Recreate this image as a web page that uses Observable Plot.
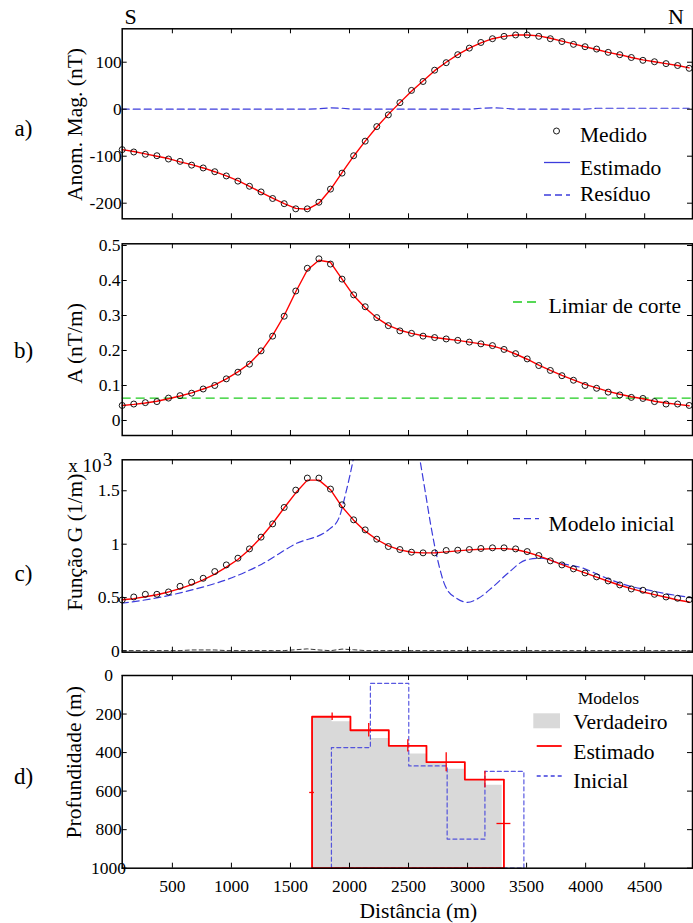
<!DOCTYPE html>
<html><head><meta charset="utf-8">
<script src="https://cdn.jsdelivr.net/npm/d3@7"></script>
<script src="https://cdn.jsdelivr.net/npm/@observablehq/plot@0.6"></script>
<style>
html,body{margin:0;padding:0;background:#fff;}
#wrap{position:relative;width:693px;height:923px;overflow:hidden;font-family:"Liberation Serif","Times New Roman",serif;}
</style></head><body><div id="wrap"></div>
<script>
// ---------------- DATA ----------------
const stations = d3.range(50).map(i => 75 + 98 * i); // survey stations (m)
const xTicks = [500, 1000, 1500, 2000, 2500, 3000, 3500, 4000, 4500];

// a) magnetic anomaly (nT)
const magMedido = [-86,-91,-96,-99,-106,-111,-119,-125,-133,-142,-153,-164,-176,-190,-201,-212,-212,-198,-170,-136,-99,-68,-37,-12,14,40,59,83,99,116,130,142,150,155,158,158,155,150,144,138,133,128,121,116,110,104,101,97,93,87];
const magEstimado = [-86,-90,-95,-100,-105,-112,-118,-125,-133,-142,-152,-164,-177,-189,-201,-211,-213,-200,-171,-135,-100,-68,-38,-11,14,38,60,82,100,116,130,141,150,155,158,158,156,151,145,139,133,127,121,116,110,105,101,97,93,88];
const magResiduo = [0,0,0,0,0,0,0,0,0,0,0,0,0,0,0,0,0,1,3,2,0,0,0,0,0,0,0,0,0,0,0,2,3,2,0,0,0,0,0,0,0,2,2,2,2,2,2,2,2,2];
const magYTicks = [-200, -100, 0, 100];

// b) amplitude of analytic signal (nT/m)
const ampMedido = [0.043,0.047,0.051,0.054,0.064,0.071,0.078,0.090,0.100,0.119,0.138,0.161,0.199,0.241,0.298,0.370,0.435,0.462,0.447,0.404,0.359,0.325,0.294,0.271,0.256,0.249,0.241,0.237,0.233,0.229,0.224,0.219,0.214,0.203,0.191,0.176,0.157,0.143,0.128,0.115,0.100,0.092,0.081,0.073,0.066,0.063,0.054,0.047,0.047,0.043];
const ampEstimado = [0.043,0.046,0.050,0.055,0.062,0.070,0.079,0.090,0.102,0.119,0.139,0.163,0.197,0.243,0.300,0.368,0.430,0.458,0.452,0.404,0.357,0.322,0.293,0.272,0.258,0.249,0.242,0.237,0.233,0.229,0.224,0.219,0.213,0.203,0.190,0.175,0.158,0.143,0.129,0.116,0.103,0.093,0.083,0.075,0.068,0.062,0.055,0.050,0.046,0.042];
const limiarCorte = 0.064;
const ampYTicks = [0, 0.1, 0.2, 0.3, 0.4, 0.5];

// c) function G (x 10^3, 1/m)
const gMedido = [0.478,0.506,0.531,0.531,0.553,0.606,0.644,0.681,0.744,0.806,0.869,0.956,1.066,1.190,1.344,1.506,1.619,1.619,1.516,1.369,1.228,1.134,1.047,0.978,0.950,0.925,0.919,0.919,0.941,0.944,0.950,0.960,0.966,0.966,0.956,0.931,0.894,0.844,0.806,0.769,0.731,0.694,0.656,0.619,0.581,0.569,0.531,0.506,0.494,0.481];
const gEstimado = [0.480,0.490,0.508,0.527,0.553,0.584,0.622,0.666,0.720,0.785,0.857,0.950,1.063,1.194,1.341,1.481,1.600,1.600,1.510,1.350,1.225,1.122,1.044,0.984,0.947,0.925,0.919,0.919,0.928,0.937,0.947,0.953,0.959,0.959,0.950,0.925,0.891,0.850,0.809,0.769,0.731,0.691,0.653,0.616,0.584,0.553,0.528,0.503,0.478,0.459];
const gResiduo = [0.004,0.004,0.004,0.004,0.004,0.004,0.010,0.010,0.010,0.004,0.004,0.004,0.004,0.004,0.004,0.012,0.020,0.010,0.003,0.018,0.012,0.004,0.004,0.004,0.004,0.004,0.004,0.004,0.004,0.004,0.004,0.004,0.004,0.004,0.004,0.004,0.004,0.004,0.004,0.004,0.004,0.004,0.004,0.004,0.004,0.004,0.004,0.004,0.004,0.004];
const gInicialX = [68,354,666,977,1257,1537,1832,1910,1972,2034,2150,2300,2450,2594,2642,2688,2750,2813,2906,2999,3092,3217,3341,3497,3621,3777,3964,4151,4337,4523,4710,4896];
const gInicialY = [0.447,0.494,0.572,0.675,0.813,1.000,1.143,1.244,1.494,1.806,2.600,3.000,2.600,1.806,1.490,1.180,0.838,0.603,0.494,0.456,0.494,0.603,0.728,0.853,0.869,0.822,0.781,0.694,0.619,0.572,0.531,0.500];
const gYTicks = [0, 0.5, 1, 1.5];

// d) depth models (m)
const trueBounds = [1683,1853,2008,2177,2333,2502,2652,2827,2977,3152,3293];
const trueTops = [216,240,287,327,370,408,453,486,543,569];
const estBounds = [1683,2008,2333,2652,2977,3308];
const estTops = [214,284,365,450,540];
const estErrX = [1853,2163,2494,2819,3147];
const estErrHalf = [19,35,32,49,43];
const estSideDepth = [607,768];
const estSideHalf = [20,59];
const initBounds = [1847,2177,2502,2827,3147,3477];
const initTops = [374,41,469,849,498];
const baseDepth = 1000;
const depthYTicks = [0, 200, 400, 600, 800, 1000];

// ---------------- LAYOUT ----------------
const W = 693, ML = 121.7, MR = 1;
const FW = W - ML - MR;
const X_DOMAIN = [75, 4905];
const FONT = '"Liberation Serif","Times New Roman",serif';
const RED = "#ff0000", BLUE = "#3c3cdc", GREEN = "#1fcc1f";
const wrap = document.getElementById("wrap");

function inwardTicks(yTicks, frameH) {
  const t = 5;
  return [
    Plot.ruleX(xTicks, {x: d => d, insetBottom: frameH - t, stroke: "black", strokeWidth: 1}),
    Plot.ruleX(xTicks, {x: d => d, insetTop: frameH - t, stroke: "black", strokeWidth: 1}),
    Plot.ruleY(yTicks, {y: d => d, insetRight: FW - t, stroke: "black", strokeWidth: 1}),
    Plot.ruleY(yTicks, {y: d => d, insetLeft: FW - t, stroke: "black", strokeWidth: 1})
  ];
}
function label(txt, opts) {
  return Plot.text([txt], {text: d => d, fill: "black", stroke: null, ...opts});
}
function place(svg, top) {
  svg.style.position = "absolute";
  svg.style.left = "0px";
  svg.style.top = top + "px";
  svg.style.maxWidth = "none";
  svg.style.background = "transparent";
  svg.style.overflow = "visible";
  wrap.append(svg);
}
const series = (ys) => stations.map((x, i) => ({x, y: ys[i]}));

// ---------------- PANEL A ----------------
{
  const mt = 28.3, mb = 11.7, h = 230;
  const fh = h - mt - mb;
  const svg = Plot.plot({
    width: W, height: h, marginLeft: ML, marginRight: MR, marginTop: mt, marginBottom: mb,
    style: {fontFamily: FONT, fontSize: "17.5px"},
    x: {domain: X_DOMAIN, axis: null},
    y: {domain: [-233.2, 171.1], axis: null},
    marks: [
      Plot.line(series(magResiduo), {x: "x", y: "y", stroke: BLUE, strokeWidth: 1.2, strokeDasharray: "7,4"}),
      Plot.line(series(magEstimado), {x: "x", y: "y", stroke: RED, strokeWidth: 1.4}),
      Plot.dot(series(magMedido), {x: "x", y: "y", r: 3, stroke: "black", strokeWidth: 0.9, fill: "none"}),
      ...inwardTicks(magYTicks, fh),
      Plot.axisY(magYTicks, {anchor: "left", tickSize: 0, tickPadding: 0.5, tickFormat: d => String(d), fontSize: 17.5, label: null}),
      Plot.frame({stroke: "black", strokeWidth: 1.5}),
      label("Anom. Mag. (nT)", {frameAnchor: "left", rotate: -90, dx: -46.7, dy: 0.7, fontSize: 21.5, textAnchor: "middle", lineAnchor: "middle"}),
      label("a)", {frameAnchor: "left", dx: -98.7, dy: 4.7, fontSize: 23, textAnchor: "middle", lineAnchor: "middle"}),
      label("S", {frameAnchor: "top-left", dx: 8.3, dy: -12.3, fontSize: 22, textAnchor: "middle", lineAnchor: "middle"}),
      label("N", {frameAnchor: "top-right", dx: -16.5, dy: -12.3, fontSize: 22, textAnchor: "middle", lineAnchor: "middle"})
    ]
  });
  place(svg, 0);
}

// ---------------- PANEL B ----------------
{
  const mt = 13.3, mb = 5, h = 210;
  const fh = h - mt - mb;
  const svg = Plot.plot({
    width: W, height: h, marginLeft: ML, marginRight: MR, marginTop: mt, marginBottom: mb,
    style: {fontFamily: FONT, fontSize: "17.5px"},
    x: {domain: X_DOMAIN, axis: null},
    y: {domain: [-0.0429, 0.5049], axis: null},
    marks: [
      Plot.ruleY([limiarCorte], {y: d => d, stroke: GREEN, strokeWidth: 1.4, strokeDasharray: "9,5"}),
      Plot.line(series(ampEstimado), {x: "x", y: "y", stroke: RED, strokeWidth: 1.4}),
      Plot.dot(series(ampMedido), {x: "x", y: "y", r: 3, stroke: "black", strokeWidth: 0.9, fill: "none"}),
      ...inwardTicks(ampYTicks, fh),
      Plot.axisY(ampYTicks, {anchor: "left", tickSize: 0, tickPadding: 1.7, tickFormat: d => String(d), fontSize: 17.5, label: null}),
      Plot.frame({stroke: "black", strokeWidth: 1.5}),
      label("A (nT/m)", {frameAnchor: "left", rotate: -90, dx: -46.7, dy: 3.8, fontSize: 21.5, textAnchor: "middle", lineAnchor: "middle"}),
      label("b)", {frameAnchor: "left", dx: -98.7, dy: 10.8, fontSize: 23, textAnchor: "middle", lineAnchor: "middle"})
    ]
  });
  place(svg, 230);
}

// ---------------- PANEL C ----------------
{
  const mt = 19.3, mb = 8.3, h = 220;
  const fh = h - mt - mb;
  const svg = Plot.plot({
    width: W, height: h, marginLeft: ML, marginRight: MR, marginTop: mt, marginBottom: mb,
    style: {fontFamily: FONT, fontSize: "17.5px"},
    x: {domain: X_DOMAIN, axis: null},
    y: {domain: [-0.011, 1.79], axis: null},
    marks: [
      Plot.line(gInicialX.map((x, i) => ({x, y: gInicialY[i]})), {x: "x", y: "y", stroke: BLUE, strokeWidth: 1.2, strokeDasharray: "7,4", curve: "monotone-x", clip: true}),
      Plot.line(series(gResiduo), {x: "x", y: "y", stroke: "#222", strokeWidth: 0.9, strokeDasharray: "4,3"}),
      Plot.line(series(gEstimado), {x: "x", y: "y", stroke: RED, strokeWidth: 1.4}),
      Plot.dot(series(gMedido), {x: "x", y: "y", r: 3, stroke: "black", strokeWidth: 0.9, fill: "none"}),
      ...inwardTicks(gYTicks, fh),
      Plot.axisY(gYTicks, {anchor: "left", tickSize: 0, tickPadding: 2.5, tickFormat: d => String(d), fontSize: 17.5, label: null}),
      Plot.frame({stroke: "black", strokeWidth: 1.5}),
      label("Função G (1/m)", {frameAnchor: "left", rotate: -90, dx: -46.7, dy: -13.8, fontSize: 21.5, textAnchor: "middle", lineAnchor: "middle"}),
      label("c)", {frameAnchor: "left", dx: -98.7, dy: 17.5, fontSize: 23, textAnchor: "middle", lineAnchor: "middle"}),
      label("x 10", {frameAnchor: "top-left", dx: -54, dy: 12.4, fontSize: 19, textAnchor: "start", lineAnchor: "bottom"}),
      label("3", {frameAnchor: "top-left", dx: -19.5, dy: 5.7, fontSize: 19, textAnchor: "start", lineAnchor: "bottom"})
    ]
  });
  place(svg, 440);
}

// ---------------- PANEL D ----------------
function stepPolygon(bounds, tops, base) {
  const pts = [{x: bounds[0], y: base}];
  tops.forEach((t, i) => { pts.push({x: bounds[i], y: t}, {x: bounds[i + 1], y: t}); });
  pts.push({x: bounds[bounds.length - 1], y: base}, {x: bounds[0], y: base});
  return pts;
}
{
  const mt = 15, mb = 55.3, h = 263;
  const fh = h - mt - mb;
  const truePts = trueBounds.map((x, i) => ({x, top: trueTops[Math.min(i, trueTops.length - 1)]}));
  const estErr = estErrX.map((x, i) => ({x, y: estTops[i], e: estErrHalf[i]}));
  const sideErr = [
    {x: estBounds[0], y: estSideDepth[0], e: estSideHalf[0]},
    {x: estBounds[estBounds.length - 1], y: estSideDepth[1], e: estSideHalf[1]}
  ];
  const svg = Plot.plot({
    width: W, height: h, marginLeft: ML, marginRight: MR, marginTop: mt, marginBottom: mb,
    style: {fontFamily: FONT, fontSize: "17.5px"},
    x: {domain: X_DOMAIN, axis: null},
    y: {domain: [0, 1000], reverse: true, axis: null},
    marks: [
      Plot.areaY(truePts, {x: "x", y1: () => baseDepth, y2: "top", curve: "step-after", fill: "#d9d9d9"}),
      Plot.line(stepPolygon(initBounds, initTops, baseDepth), {x: "x", y: "y", stroke: BLUE, strokeWidth: 1.2, strokeDasharray: "4,3", strokeOpacity: 0.85}),
      Plot.line(stepPolygon(estBounds, estTops, baseDepth), {x: "x", y: "y", stroke: RED, strokeWidth: 1.8}),
      Plot.ruleX(estErr, {x: "x", y1: d => d.y - d.e, y2: d => d.y + d.e, stroke: RED, strokeWidth: 1.3}),
      Plot.ruleY(sideErr, {y: "y", x1: d => d.x - d.e, x2: d => d.x + d.e, stroke: RED, strokeWidth: 1.3}),
      ...inwardTicks(depthYTicks, fh),
      Plot.axisY(depthYTicks, {anchor: "left", tickSize: 0, tickPadding: 13.7, textAnchor: "middle", tickFormat: d => String(d), fontSize: 17.5, label: null}),
      Plot.axisX(xTicks, {anchor: "bottom", tickSize: 0, tickPadding: 11, tickFormat: d => String(d), fontSize: 17.5, label: null}),
      Plot.frame({stroke: "black", strokeWidth: 1.5}),
      label("Profundidade (m)", {frameAnchor: "left", rotate: -90, dx: -47.7, dy: -9.6, fontSize: 21.5, textAnchor: "middle", lineAnchor: "middle"}),
      label("d)", {frameAnchor: "left", dx: -98.7, dy: 4.7, fontSize: 23, textAnchor: "middle", lineAnchor: "middle"}),
      label("Distância (m)", {frameAnchor: "bottom", dx: 11, dy: 43.3, fontSize: 21.5, textAnchor: "middle", lineAnchor: "middle"})
    ]
  });
  place(svg, 660);
}

// ---------------- LEGENDS (overlay) ----------------
{
  const lg = d3.select(wrap).append("svg")
    .attr("width", W).attr("height", 923)
    .style("position", "absolute").style("left", "0px").style("top", "0px")
    .style("pointer-events", "none")
    .style("font-family", FONT);
  const txt = (x, y, s, size = 21.5) => lg.append("text").attr("x", x).attr("y", y)
    .attr("dominant-baseline", "central").attr("font-size", size).attr("fill", "black").text(s);
  const ln = (x1, x2, y, color, dash, w = 1.3) => lg.append("line").attr("x1", x1).attr("x2", x2)
    .attr("y1", y).attr("y2", y).attr("stroke", color).attr("stroke-width", w)
    .attr("stroke-dasharray", dash || null);
  // a)
  lg.append("circle").attr("cx", 556.5).attr("cy", 131).attr("r", 3).attr("fill", "none").attr("stroke", "black").attr("stroke-width", 0.9);
  txt(580, 135, "Medido");
  ln(544, 570, 162.5, BLUE, null, 1.3);
  txt(580, 167.5, "Estimado");
  ln(544, 570, 195, BLUE, "7,4", 1.3);
  txt(580, 193.5, "Resíduo");
  // b)
  ln(513, 539, 302, GREEN, "9,5", 1.4);
  txt(548.6, 306, "Limiar de corte");
  // c)
  ln(513, 539, 518.7, BLUE, "7,4", 1.3);
  txt(548.6, 523.7, "Modelo inicial");
  // d)
  txt(577.7, 698, "Modelos", 17.5);
  lg.append("rect").attr("x", 533.3).attr("y", 713.3).attr("width", 26.7).attr("height", 15).attr("fill", "#d9d9d9");
  txt(573.3, 722, "Verdadeiro");
  ln(536.7, 561.7, 746, RED, null, 1.8);
  txt(573.3, 752, "Estimado");
  ln(536.7, 561.7, 776, BLUE, "4,3", 1.3);
  txt(573.3, 781, "Inicial");
}
</script>
</body></html>
